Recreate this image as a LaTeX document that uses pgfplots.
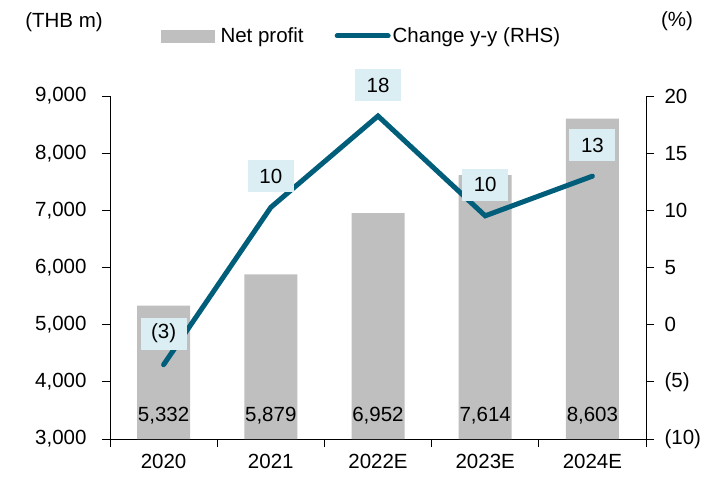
\documentclass[border=0pt]{standalone}
\usepackage{fontspec}
\setmainfont{Liberation Sans}
\usepackage{pgfplots}
\pgfplotsset{compat=1.18}

\definecolor{barGray}{HTML}{BFBFBF}
\definecolor{lineTeal}{HTML}{005E7B}
\definecolor{boxBlue}{HTML}{DAEEF3}
\newcommand{\chartfont}{\fontsize{20.5}{24}\selectfont}

\pgfplotsset{
  /pgf/number format/assume math mode=true,
  base/.style={
    at={(0pt,0pt)}, anchor=south west,
    width=536pt, height=343pt, scale only axis,
    xmin=-0.5, xmax=4.5,
    tick align=outside,
    tick label style={font=\chartfont},
    axis line style={line width=0.9pt},
    tick style={line width=0.9pt, black},
    major tick length=8pt,
  },
}

\begin{document}
\begin{tikzpicture}[font=\chartfont]
\path[use as bounding box] (-110pt,-38pt) rectangle (593pt,439pt);

% left axis: net profit bars
\begin{axis}[base,
  axis x line*=bottom, axis y line*=left,
  ymin=3000, ymax=9000, ytick={3000,4000,...,9000},
  scaled y ticks=false,
  yticklabel shift=12pt,
  yticklabel style={/pgf/number format/.cd, fixed, 1000 sep={,}},
  xtick={-0.5,0.5,...,4.5}, xticklabels={},
  extra x ticks={0,1,2,3,4},
  extra x tick labels={2020,2021,2022E,2023E,2024E},
  extra x tick style={major tick length=0pt, xticklabel shift=12pt},
]
\addplot[ybar, bar width=53pt, bar shift=0pt, fill=barGray, draw=none]
  coordinates {(0,5332) (1,5879) (2,6952) (3,7614) (4,8603)};
\addplot[draw=none, mark=none, point meta=explicit,
  nodes near coords={\pgfmathprintnumber[fixed,precision=0,1000 sep={,}]{\pgfplotspointmeta}},
  every node near coord/.append style={anchor=center, font=\chartfont, text=black}]
  coordinates {(0,3410) [5332] (1,3410) [5879] (2,3410) [6952] (3,3410) [7614] (4,3410) [8603]};
\end{axis}

% right axis: growth line
\begin{axis}[base,
  axis x line=none, axis y line*=right,
  ymin=-10, ymax=20, ytick={-10,-5,...,20},
  yticklabels={(10),(5),0,5,10,15,20},
  yticklabel shift=7pt,
  clip=false,
  legend style={draw=none, fill=none, inner sep=0pt,
    at={(axis description cs:0.095,1.175)}, anchor=west,
    legend columns=-1, font=\chartfont,
    /tikz/every even column/.append style={column sep=29pt}},
]
\addlegendimage{legend image code/.code={\fill[barGray] (0pt,-6pt) rectangle (53pt,6pt); \path (57pt,0pt);}}
\addlegendentry{Net profit}
\addplot[forget plot, draw=none, mark=none, point meta=explicit symbolic,
  nodes near coords,
  every node near coord/.append style={anchor=center, yshift=31pt, fill=boxBlue,
    minimum width=46pt, minimum height=32pt, text=black, font=\chartfont}]
  coordinates {(0,-3.5) [(3)] (1,10.26) [10] (2,18.25) [18] (3,9.52) [10] (4,12.99) [13]};
\addplot[lineTeal, line width=5pt, line cap=round, line join=miter, mark=none,
  legend image code/.code={\draw[lineTeal, line width=5pt, line cap=round] (2.5pt,0pt) -- (53.5pt,0pt);}]
  coordinates {(0,-3.5) (1,10.26) (2,18.25) (3,9.52) (4,12.99)};
\addlegendentry{Change y-y (RHS)}
\end{axis}

\node at (-46pt,417pt) {(THB m)};
\node at (567pt,418pt) {(\%)};
\end{tikzpicture}
\end{document}
